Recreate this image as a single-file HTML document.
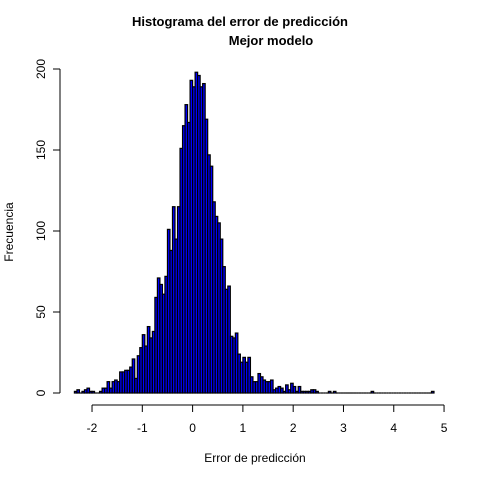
<!DOCTYPE html>
<html><head><meta charset="utf-8"><style>
body{margin:0;background:#fff}
svg{display:block;font-family:"Liberation Sans",Arial,sans-serif}
</style></head><body>
<svg id="chart" width="480" height="480">
<text x="240" y="26" text-anchor="middle" font-size="13" font-weight="bold">Histograma del error de predicción</text>
<text x="271" y="45" text-anchor="middle" font-size="13" font-weight="bold">Mejor modelo</text>
<text x="255" y="462" text-anchor="middle" font-size="12">Error de predicción</text>
<text transform="translate(13,232) rotate(-90)" text-anchor="middle" font-size="12">Frecuencia</text>
<g id="bars"></g>
<g id="xaxis"></g>
<g id="yaxis"></g>
</svg>
<script>
const binStart = -2.35;
const binWidth = 0.05;
const counts = [1,2,0,1,2,3,1,1,0,0,1,3,3,7,3,7,8,7,13,13,14,14,16,21,9,23,
28,36,29,41,34,38,59,71,67,61,72,101,88,115,95,115,151,165,178,167,193,189,198,196,189,191,169,147,140,118,109,105,95,78,64,66,35,34,37,24,19,22,19,22,10,
7,7,12,10,8,7,7,8,2,3,4,3,1,5,2,6,4,1,4,1,1,1,1,2,2,1,0,0,0,0,1,0,1,
0,0,0,0,0,0,0,0,0,0,0,0,0,0,1,0,0,0,0,0,0,0,0,0,0,0,0,0,0,0,0,0,0,0,0,0,0,0,1];
const xTicks = [-2,-1,0,1,2,3,4,5];
const yTicks = [0,50,100,150,200];
const NS = "http://www.w3.org/2000/svg";
const xs = v => 192.6 + 50.29 * v;
const ys = c => 393 - 1.62 * c;
function mk(tag, attrs, parent){const e=document.createElementNS(NS,tag);for(const k in attrs)e.setAttribute(k,attrs[k]);parent.appendChild(e);return e;}
const bars = document.getElementById('bars');
counts.forEach((c,i)=>{
  const x0 = xs(binStart + i*binWidth), x1 = xs(binStart + (i+1)*binWidth);
  let r;
  if (c === 0) {
    r = mk('line',{x1:x0,x2:x1,y1:393,y2:393,stroke:'#000','stroke-width':1.2},bars);
  } else {
    r = mk('rect',{x:x0,y:ys(c),width:x1-x0,height:393-ys(c),fill:'#0000ff',stroke:'#000','stroke-width':1.2},bars);
  }
  
  
});
const xa = document.getElementById('xaxis');
mk('line',{x1:xs(xTicks[0]),x2:xs(xTicks[xTicks.length-1]),y1:405,y2:405,stroke:'#000'},xa);
xTicks.forEach(t=>{
  mk('line',{x1:xs(t),x2:xs(t),y1:405,y2:412,stroke:'#000'},xa);
  const tx = mk('text',{x:xs(t),y:432,'text-anchor':'middle','font-size':12},xa);
  tx.textContent = t;
  
  
});
const ya = document.getElementById('yaxis');
mk('line',{x1:60,x2:60,y1:ys(yTicks[0]),y2:ys(yTicks[yTicks.length-1]),stroke:'#000'},ya);
yTicks.forEach(t=>{
  mk('line',{x1:53,x2:60,y1:ys(t),y2:ys(t),stroke:'#000'},ya);
  const tx = mk('text',{transform:`translate(45,${ys(t)}) rotate(-90)`,'text-anchor':'middle','font-size':12},ya);
  tx.textContent = t;
  
  
});
</script>
</body></html>
